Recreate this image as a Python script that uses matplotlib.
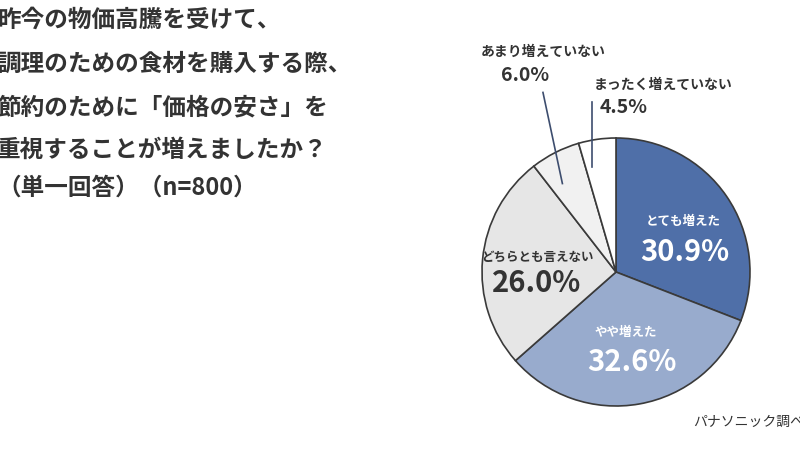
import matplotlib
matplotlib.use("Agg")
import matplotlib.pyplot as plt

plt.rcParams['font.family'] = ['Noto Sans CJK JP', 'DejaVu Sans']

labels = ["とても増えた", "やや増えた", "どちらとも言えない", "あまり増えていない", "まったく増えていない"]
values = [30.9, 32.6, 26.0, 6.0, 4.5]
colors = ["#4f6fa8", "#98abcd", "#e6e6e6", "#f1f1f1", "#ffffff"]

title_lines = ["昨今の物価高騰を受けて、",
               "調理のための食材を購入する際、",
               "節約のために「価格の安さ」を",
               "重視することが増えましたか？",
               "（単一回答）（n=800）"]
source = "パナソニック調べ"

fig = plt.figure(figsize=(8, 4.5), dpi=100)

# title, one line at a time (pixel y of each line centre)
title_y = [20, 64, 107, 150, 188]
for line, py in zip(title_lines, title_y):
    fig.text(-3 / 800, 1 - py / 450, line, ha="left", va="center",
             fontsize=17, fontweight="bold", color="#333333")

# pie axes: centre (616, 272) px, radius 134 px
r = 134
ax = fig.add_axes([(616 - r) / 800, (450 - 272 - r) / 450, 2 * r / 800, 2 * r / 450])
ax.pie(values, colors=colors, startangle=90, counterclock=False, radius=1,
       wedgeprops=dict(edgecolor="#3a3a3a", linewidth=1.2))
ax.set_xlim(-1, 1)
ax.set_ylim(-1, 1)
ax.set_aspect("equal")
ax.axis("off")

# labels inside the slices
inside = [(0.50, 0.38, 0.51, 0.15, "white"),
          (0.07, -0.455, 0.12, -0.67, "white"),
          (-0.59, 0.11, -0.59, -0.08, "#333333")]
for (lx, ly, vx, vy, c), lab, v in zip(inside, labels[:3], values[:3]):
    ax.text(lx, ly, lab, ha="center", va="center", fontsize=9,
            fontweight="bold", color=c, clip_on=False)
    ax.text(vx, vy, f"{v:.1f}%", ha="center", va="center", fontsize=21,
            fontweight="bold", color=c, clip_on=False)

# labels outside with leader lines
outside = [(-0.545, 1.64, -0.68, 1.47, (-0.545, -0.40), (1.34, 0.66)),
           (0.35, 1.40, 0.06, 1.23, (-0.18, -0.18), (1.27, 0.78))]
for (lx, ly, vx, vy, xs, ys), lab, v in zip(outside, labels[3:], values[3:]):
    ax.text(lx, ly, lab, ha="center", va="center", fontsize=10,
            fontweight="bold", color="#333333", clip_on=False)
    ax.text(vx, vy, f"{v:.1f}%", ha="center", va="center", fontsize=14,
            fontweight="bold", color="#333333", clip_on=False)
    ax.plot(xs, ys, color="#3d4d6e", linewidth=1.2, clip_on=False)

fig.text(693 / 800, 1 - 422 / 450, source, ha="left", va="center",
         fontsize=10, color="#333333")

fig.savefig("out.png", dpi=100)
